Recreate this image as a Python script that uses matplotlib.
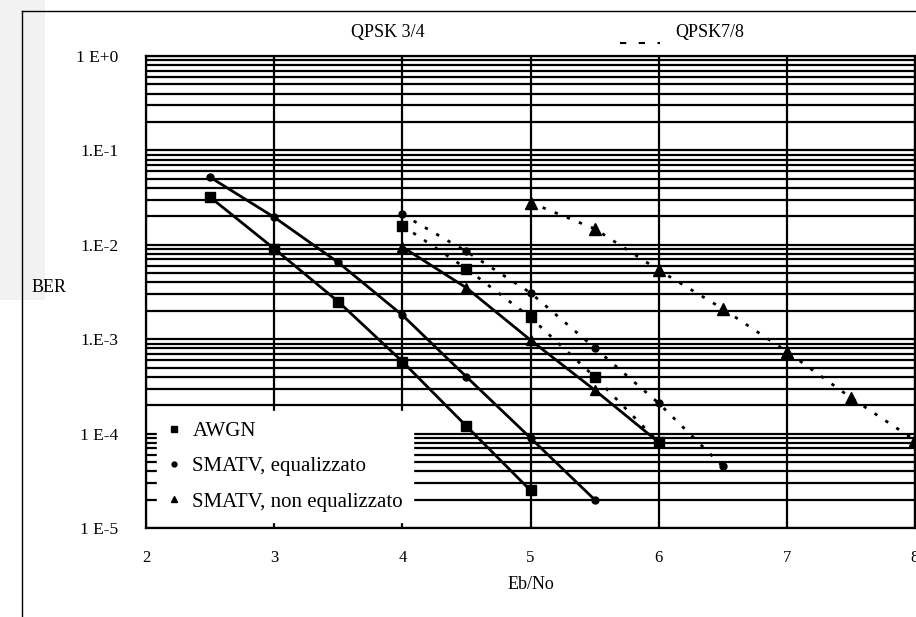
import matplotlib
matplotlib.use('Agg')
import matplotlib.pyplot as plt
from matplotlib.lines import Line2D
from matplotlib.patches import Rectangle

# QPSK 3/4 (solid lines)
awgn_34_x = [2.5, 3.0, 3.5, 4.0, 4.5, 5.0]
awgn_34_y = [0.032, 0.0091, 0.0025, 5.8e-4, 1.2e-4, 2.5e-5]
eq_34_x = [2.5, 3.0, 3.5, 4.0, 4.5, 5.0, 5.5]
eq_34_y = [0.052, 0.0196, 0.0065, 0.0018, 4.0e-4, 9.0e-5, 2.0e-5]
noeq_34_x = [4.0, 4.5, 5.0, 5.5, 6.0]
noeq_34_y = [0.0095, 0.0035, 9.8e-4, 2.9e-4, 8.1e-5]

# QPSK 7/8 (dotted lines)
awgn_78_x = [4.0, 4.5, 5.0, 5.5, 6.0]
awgn_78_y = [0.016, 0.0056, 0.0017, 4.0e-4, 8.1e-5]
eq_78_x = [4.0, 4.5, 5.0, 5.5, 6.0, 6.5]
eq_78_y = [0.021, 0.0085, 0.0031, 8.1e-4, 2.1e-4, 4.5e-5]
noeq_78_x = [5.0, 5.5, 6.0, 6.5, 7.0, 7.5, 8.0]
noeq_78_y = [0.028, 0.0148, 0.0054, 0.0021, 7.4e-4, 2.4e-4, 8.5e-5]

y_ticks = [1, 1e-1, 1e-2, 1e-3, 1e-4, 1e-5]
y_tick_labels = ['1 E+0', '1.E-1', '1.E-2', '1.E-3', '1 E-4', '1 E-5']
x_ticks = [2, 3, 4, 5, 6, 7, 8]
legend_labels = ['AWGN', 'SMATV, equalizzato', 'SMATV, non equalizzato']

plt.rcParams['font.family'] = ['Liberation Serif', 'DejaVu Serif']

fig = plt.figure(figsize=(9.16, 6.17), dpi=100)
ax = fig.add_axes([146 / 916, 1 - 528 / 617, 769 / 916, 472 / 617])

ax.set_yscale('log')
ax.set_xlim(2, 8)
ax.set_ylim(1e-5, 1)

# heavy grid like the scanned paper
ax.grid(True, which='both', axis='y', color='black', linewidth=1.6)
ax.grid(True, which='major', axis='x', color='black', linewidth=1.6)
ax.set_axisbelow(True)
for s in ax.spines.values():
    s.set_linewidth(1.6)

ax.set_xticks(x_ticks)
ax.set_xticklabels([str(v) for v in x_ticks], fontsize=12)
ax.set_yticks(y_ticks)
ax.set_yticklabels(y_tick_labels, fontsize=12.5)
ax.tick_params(which='both', length=0)
ax.tick_params(axis='y', pad=20)
ax.tick_params(axis='x', pad=16)

# solid curves
ax.plot(awgn_34_x, awgn_34_y, '-', color='black', lw=2, marker='s', ms=7)
ax.plot(eq_34_x, eq_34_y, '-', color='black', lw=2, marker='o', ms=5)
ax.plot(noeq_34_x, noeq_34_y, '-', color='black', lw=2, marker='^', ms=7)

# dotted curves
dots = (0, (1.2, 3.5))
ax.plot(awgn_78_x, awgn_78_y, linestyle=dots, color='black', lw=2, marker='s', ms=7)
ax.plot(eq_78_x, eq_78_y, linestyle=dots, color='black', lw=2, marker='o', ms=5)
ax.plot(noeq_78_x, noeq_78_y, linestyle=dots, color='black', lw=2, marker='^', ms=8)

# legend with markers only
handles = [
    Line2D([], [], color='black', marker='s', ms=4, linestyle='none'),
    Line2D([], [], color='black', marker='o', ms=3.5, linestyle='none'),
    Line2D([], [], color='black', marker='^', ms=4, linestyle='none'),
]
leg = ax.legend(handles, legend_labels, loc='lower left',
                bbox_to_anchor=(11 / 769, 6 / 472), fontsize=15,
                frameon=True, fancybox=False, framealpha=1,
                edgecolor='white', facecolor='white',
                handlelength=0.6, handletextpad=0.6, labelspacing=0.75,
                borderpad=0.5, borderaxespad=0)

ax.set_xlabel('Eb/No', fontsize=13, labelpad=7)
fig.text(49 / 916, 1 - 288 / 617, 'BER', fontsize=13, ha='center', va='center')

fig.text(388 / 916, 1 - 32 / 617, 'QPSK 3/4', fontsize=13, ha='center', va='center')
fig.text(710 / 916, 1 - 32 / 617, 'QPSK7/8', fontsize=13, ha='center', va='center')
fig.add_artist(Line2D([620 / 916, 660 / 916], [1 - 43 / 617, 1 - 43 / 617],
                      color='black', lw=1.5, linestyle=(0, (3, 6))))

# page border of the scan
fig.add_artist(Rectangle((0, 1 - 300 / 617), 45 / 916, 300 / 617,
                         color='#f2f2f2', lw=0, zorder=-5))
fig.add_artist(Line2D([22 / 916, 1], [1 - 11 / 617, 1 - 11 / 617],
                      color='black', lw=1))
fig.add_artist(Line2D([22 / 916, 22 / 916], [0, 1 - 11 / 617],
                      color='black', lw=1))

fig.savefig('out.png', dpi=100)
plt.close(fig)
